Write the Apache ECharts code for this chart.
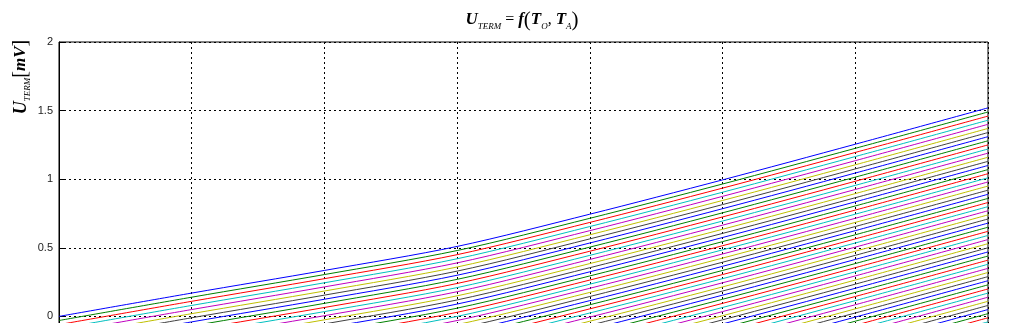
<!DOCTYPE html>
<html lang="en">
<head>
<meta charset="utf-8">
<title>U_TERM = f(T_O, T_A)</title>
<script src="https://cdn.jsdelivr.net/npm/echarts@6/dist/echarts.min.js"></script>
<style>
  html, body { margin: 0; padding: 0; background: #fff; }
  #chart { width: 1023px; height: 323px; }
</style>
</head>
<body>
<div id="chart"></div>
<script>
// x positions of the readings (grid columns)
var xValues = [0, 10, 20, 30, 40, 50, 60, 70];
// top curve (first ambient temperature), mV
var topCurve = [0, 0.17, 0.335, 0.51, 0.745, 0.995, 1.255, 1.52];
// downward shift of each following curve, mV
var offsets = [0, 0.03, 0.06, 0.09, 0.12, 0.15, 0.18, 0.21, 0.24, 0.27,
               0.30, 0.33, 0.36, 0.39, 0.42, 0.45, 0.48, 0.51, 0.54, 0.57,
               0.60, 0.63, 0.66, 0.69, 0.72, 0.75, 0.78, 0.81, 0.84, 0.87,
               0.90, 0.93, 0.96, 0.99, 1.02, 1.05, 1.08, 1.11, 1.14, 1.17,
               1.20, 1.23, 1.26, 1.29, 1.32, 1.35, 1.38, 1.41, 1.44, 1.47,
               1.50, 1.53, 1.56, 1.59, 1.62, 1.65, 1.68, 1.71, 1.74, 1.77];
var yTicks = [-0.5, 0, 0.5, 1, 1.5, 2];
// matlab line colour order
var colors = ['#0000ff', '#008000', '#ff0000', '#00bfbf', '#bf00bf', '#bfbf00', '#404040'];

var chart = echarts.init(document.getElementById('chart'));

var series = [];
offsets.forEach(function (off, k) {
  var pts = [];
  for (var i = 0; i < xValues.length; i++) {
    pts.push([xValues[i], +(topCurve[i] - off).toFixed(4)]);
  }
  series.push({
    name: 'T_A ' + k,
    type: 'line',
    data: pts,
    showSymbol: false,
    smooth: 0.3,
    lineStyle: { width: 1, color: colors[k % colors.length] },
    itemStyle: { color: colors[k % colors.length] },
    z: 3
  });
});

var serif = 'Liberation Serif';
var option = {
  animation: false,
  backgroundColor: '#ffffff',
  grid: {
    left: 59, top: 42, right: 35, height: 343,
    outerBoundsMode: 'none', containLabel: false,
    show: true, borderColor: '#000', borderWidth: 1, backgroundColor: 'transparent'
  },
  xAxis: {
    type: 'value', min: xValues[0], max: xValues[xValues.length - 1], interval: 10,
    axisLine: { show: false },
    axisTick: { show: false },
    axisLabel: { show: false },
    splitLine: { show: true, lineStyle: { color: '#000', type: [2, 3], width: 1 } }
  },
  yAxis: {
    type: 'value', min: yTicks[0], max: yTicks[yTicks.length - 1], interval: 0.5,
    axisLine: { show: true, lineStyle: { color: '#000' } },
    axisTick: { show: true, inside: true, length: 5, lineStyle: { color: '#000' } },
    axisLabel: { color: '#222', fontFamily: 'Liberation Sans', fontSize: 11, margin: 6 },
    splitLine: { show: true, lineStyle: { color: '#000', type: [2, 3], width: 1 } }
  },
  graphic: [
    {
      type: 'text', x: 522, y: 20, z: 10,
      style: {
        text: '{u|U}{s|TERM}{n| = }{f|f}{p|(}{t|T}{s|O}{n|, }{t|T}{s|A}{p|)}',
        align: 'center', verticalAlign: 'middle',
        rich: {
          u: { fontFamily: serif, fontStyle: 'italic', fontWeight: 'bold', fontSize: 17, fill: '#000', lineHeight: 22 },
          s: { fontFamily: serif, fontStyle: 'italic', fontSize: 9, fill: '#000', verticalAlign: 'bottom', lineHeight: 22 },
          n: { fontFamily: serif, fontSize: 16, fill: '#000', lineHeight: 22 },
          f: { fontFamily: serif, fontStyle: 'italic', fontWeight: 'bold', fontSize: 17, fill: '#000', lineHeight: 22 },
          t: { fontFamily: serif, fontStyle: 'italic', fontWeight: 'bold', fontSize: 17, fill: '#000', lineHeight: 22 },
          p: { fontFamily: serif, fontSize: 21, fill: '#000', lineHeight: 22 }
        }
      }
    },
    {
      type: 'text', x: 21, y: 77, rotation: Math.PI / 2, z: 10,
      style: {
        text: '{u|U}{s|TERM}{p|[}{m|mV}{p|]}',
        align: 'center', verticalAlign: 'middle',
        rich: {
          u: { fontFamily: serif, fontStyle: 'italic', fontWeight: 'bold', fontSize: 18, fill: '#000', lineHeight: 22 },
          s: { fontFamily: serif, fontStyle: 'italic', fontSize: 9, fill: '#000', verticalAlign: 'bottom', lineHeight: 22 },
          p: { fontFamily: serif, fontSize: 20, fill: '#000', lineHeight: 22 },
          m: { fontFamily: serif, fontStyle: 'italic', fontWeight: 'bold', fontSize: 17, fill: '#000', lineHeight: 22 }
        }
      }
    }
  ],
  series: series
};
chart.setOption(option);
</script>
</body>
</html>
